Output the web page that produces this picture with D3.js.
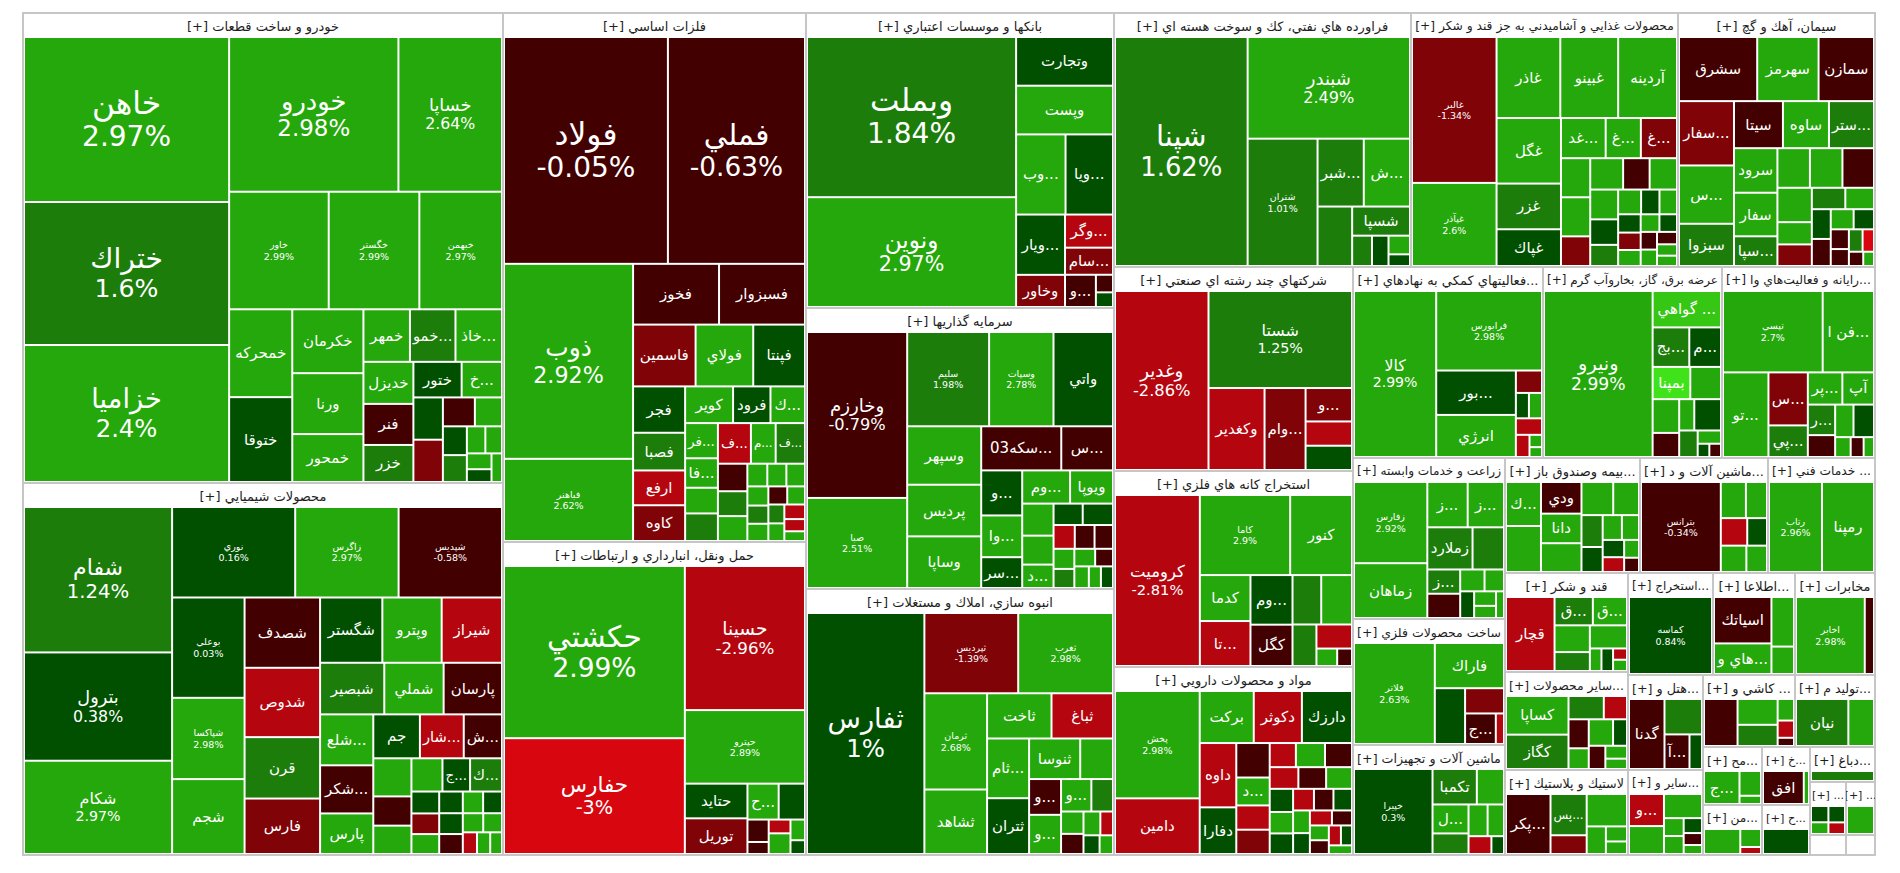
<!DOCTYPE html>
<html><head><meta charset="utf-8">
<script src="https://cdnjs.cloudflare.com/ajax/libs/d3/7.8.5/d3.min.js"></script>
<style>
html,body{margin:0;padding:0;background:#fff;}
svg{display:block;}
text{font-family:"DejaVu Sans",sans-serif;}
</style></head><body>
<svg id="chart" width="1900" height="873"></svg>
<script>
// ---------- DATA ----------
const sectorNames = [
"خودرو و ساخت قطعات","محصولات شيميايي","فلزات اساسي","حمل ونقل، انبارداري و ارتباطات",
"بانكها و موسسات اعتباري","سرمايه گذاريها","انبوه سازي، املاك و مستغلات",
"فراورده هاي نفتي، كك و سوخت هسته اي","محصولات غذايي و آشاميدني به جز قند و شكر","سيمان، آهك و گچ",
"شركتهاي چند رشته اي صنعتي","استخراج كانه هاي فلزي","مواد و محصولات دارويي",
"فعاليتهاي كمكي به نهادهاي...","عرضه برق، گاز، بخاروآب گرم","رايانه و فعاليت‌هاي وا...",
"زراعت و خدمات وابسته","ساخت محصولات فلزي","ماشين آلات و تجهيزات",
"بيمه وصندوق باز...","ماشين آلات و د...","خدمات فني ...",
"قند و شكر","ساير محصولات...","لاستيك و پلاستيك",
"استخراج...","اطلاعا...","مخابرات","هتل و...","ساير و...","كاشي و ...","توليد م...",
"مح...","من...","خ...","ح...","دباغ...","...","...","",""];

const sectorValues = [225600,178560,160287,94839,90860,86548,81928,75438,67818,50038,
48756,46844,44932,36290,34189,29223,24472,19152,16720,15525,14720,12305,12177,12054,10455,
8670,8364,8160,7125,6375,6624,5760,3422,2950,2784,2400,2275,1908,1537,720,580];

// stock rows: [symbol, weight, change %]
const autoStocks = [["خاهن",33825,2.97],["ختراك",29315,1.6],["خزاميا",28085,2.4],["خودرو",26180,2.98],["خساپا",16016,2.64],["خاور",11700,2.99],["خگستر",10647,2.99],["خبهمن",9711,2.97],["خمحركه",5544,2.9],["ختوقا",5355,0.45],["خكرمان",4544,2.8],["ورنا",4331,2.7],["خمحور",3408,2.6],["خمهر",2444,2.5],["خمو...",2392,1.5],["خاذ...",2444,2.4],["خديزل",2100,2.5],["فنر",2050,-0.6],["خزر",1850,1.4],["ختور",1715,0.4],["خ...",1435,2.2],["",1247,0.5],["",1247,-1.5],["",924,-0.5],["",784,2.5],["",690,0.5],["",644,1.5],["",500,2.5],["",450,2.5],["",390,2.5],["",315,0.5],["",300,2.5]];
const chemStocks = [["شفام",21025,1.24],["بترول",15660,0.38],["شكام",13485,2.97],["نوري",10875,0.16],["زاگرس",9135,2.97],["شپديس",9135,-0.58],["بوعلي",7100,0.03],["شپاكسا",5750,2.98],["شجم",5300,2.5],["شصدف",5183,-0.6],["شدوص",5110,-2.4],["قرن",4526,1.5],["فارس",4088,-1.3],["شگستر",3968,0.5],["وپترو",3782,2.6],["شيراز",3844,-2.5],["شبصير",3234,1.5],["شملي",2989,2.5],["پارسان",2940,-0.7],["شلع...",2646,2.4],["شكر...",2499,-0.6],["پارس",2107,2.5],["جم",2000,0.5],["شار...",1880,-2.3],["ش...",1640,-0.6],["",1419,2.5],["",1089,-0.6],["",1056,2.5],["",1008,2.5],["ج...",896,0.5],["ك...",1036,1.5],["",594,0.5],["",560,-1.5],["",540,2.5],["",500,0.5],["",480,0.5],["",460,-0.6],["",430,2.5],["",400,0.5],["",380,2.5],["",350,2.5],["",300,-2.5],["",280,2.5],["",250,2.5]];
const metalStocks = [["فولاد",36960,-0.05],["فملي",30912,-0.63],["ذوب",25019,2.92],["فباهنر",10541,2.62],["فخوز",5192,-0.6],["فسبزوار",5192,-0.6],["فاسمين",3840,-1.6],["فولاي",3540,2.5],["فپنتا",3180,0.5],["فجر",2400,0.5],["فصبا",1950,1.5],["ارفع",1800,-2.3],["كاوه",1850,-1.2],["كوير",1750,2.5],["فرود",1365,0.5],["ك...",1260,2.5],["فر...",1147,2.5],["فا...",961,2.5],["",837,2.5],["",899,1.5],["ف...",1332,-2.4],["م...",999,2.5],["ف...",1184,1.5],["",806,-0.6],["",728,1.5],["",728,2.5],["",450,2.5],["",430,2.5],["",420,2.5],["",400,2.5],["",380,1.5],["",360,2.5],["",340,-0.6],["",320,2.5],["",300,1.5],["",280,2.5],["",300,-2.4],["",250,-2.4],["",200,2.5]];
const transStocks = [["حكشتي",31122,2.99],["حفارس",20930,-3],["حسينا",17303,-2.96],["حپترو",8833,2.89],["حتايد",2170,0.5],["توريل",2232,-1.3],["ح...",1120,2.5],["",945,0.5],["",476,-0.6],["",255,-0.6],["",300,-2.5],["",450,2.5],["",300,2.5],["",200,0.5]];
const bankStocks = [["وبملت",33390,1.84],["ونوين",22890,2.97],["وتجارت",4704,0.5],["وپست",4704,2.5],["وب...",3950,2.5],["ويا...",3792,0.5],["ويار...",2940,0.5],["وخاور",1568,-1.2],["وگر...",1584,-2.4],["سام...",1296,-1.2],["و...",992,-0.6],["",300,-0.6],["",250,0.5]];
const investStocks = [["وخارزم",15908,-0.79],["صبا",8633,2.51],["سليم",7392,1.98],["وسپات",5808,2.78],["واتي",5368,0.5],["وسپهر",4140,2.5],["پرديس",3657,2.5],["وساپا",3657,2.5],["سكه03...",3380,-0.6],["س...",2184,-0.6],["و...",1768,0.5],["وا...",1638,2.5],["سر...",1209,0.5],["وم...",1521,2.5],["ويوپا",1364,2.5],["",961,2.5],["",868,2.5],["د...",702,2.5],["",598,0.5],["",621,0.5],["",483,-2.4],["",450,-0.6],["",420,-0.6],["",400,2.5],["",380,1.5],["",350,2.5],["",300,-0.6],["",300,2.5],["",250,2.5],["",250,0.5]];
const buildStocks = [["ثفارس",28197,1],["ثپرديس",7505,-1.39],["ثغرب",7584,2.98],["ثرمان",6014,2.68],["ثشاهد",4030,2.5],["ثاخت",2904,2.5],["ثباغ",2772,-2.4],["ثام...",2501,2.5],["ثتران",2337,0.5],["ثنوسا",2067,2.5],["",1326,2.5],["و...",1140,-0.7],["و...",1248,2.5],["و...",980,2.5],["",700,1.5],["",500,2.5],["",450,-0.6],["",400,2.5],["",300,-2.4],["",300,0.5],["",250,2.5]];
const oilStocks = [["شپنا",30284,1.62],["شبندر",16463,2.49],["شتران",8875,1.01],["شبر...",3128,1.5],["ش...",3128,2.5],["",2052,1.5],["شسپا",1680,1.5],["",600,1.5],["",500,0.5],["",400,2.5],["",250,0.5]];
const foodStocks = [["غالبر",11952,-1.34],["غپآذر",6806,2.6],["غاذر",5005,2.5],["غبينو",4543,2.5],["آردينه",4620,2.5],["غگل",4092,2.5],["غزر",2852,1.5],["غپاك",2294,0.5],["غد...",1739,2.5],["غ...",1369,2.5],["غ...",1406,-1.6],["",1107,2.5],["",1107,2.5],["",840,-1.6],["",1000,2.5],["",806,-0.6],["",832,2.5],["",806,2.5],["",690,0.5],["",572,1.5],["",550,2.5],["",440,0.5],["",420,2.5],["",400,0.5],["",380,-1.6],["",350,2.5],["",320,2.5],["",300,0.5],["",280,-0.6],["",260,2.5],["",240,-0.6],["",220,2.5],["",200,2.5]];
const cementStocks = [["سشرق",4898,-0.6],["سهرمز",3844,2.5],["سمازن",3472,-0.6],["سفار...",3456,-1.6],["س...",3132,2.5],["سبزوا",2268,1.5],["سيتا",2250,-0.6],["ساوه",2115,2.5],["ستر...",2070,1.5],["سرود",1890,2.5],["سفار",1848,2.5],["سپا...",1260,1.5],["",1258,2.5],["",1258,2.5],["",1221,-0.6],["",1156,2.5],["",748,2.5],["",726,-1.6],["",700,1.5],["",600,2.5],["",550,0.5],["",500,-0.6],["",450,2.5],["",400,0.5],["",350,-0.6],["",300,-0.6],["",300,1.5],["",250,-3.5],["",200,-0.6],["",150,2.5]];
const multiStocks = [["وغدير",16732,-2.86],["شستا",13920,1.25],["وكغدير",4592,-2.4],["وام...",3362,-1.2],["و...",1551,-1.2],["",1127,-2.2],["",1127,0.5]];
const miningStocks = [["كروميت",14028,-2.81],["كاما",6992,2.9],["كنور",4788,2.5],["كدما",2250,2.5],["تا...",2200,-2.4],["وم...",2016,0.5],["كگل",1680,-0.6],["",1372,1.5],["",1470,2.5],["",960,1.5],["",828,-2.4],["",350,2.5],["",250,-0.6]];
const pharmaStocks = [["پخش",9072,2.98],["دامين",4704,-2.4],["بركت",2805,2.5],["دكوثر",2499,-2.4],["دارزك",2601,0.5],["داوه",2346,-2.4],["دفارا",1702,0.5],["",1150,-0.6],["د...",930,2.5],["",810,-2.4],["",810,-1.2],["",630,-2.4],["",700,2.5],["",650,-0.6],["",620,-2.4],["",600,-0.6],["",560,2.5],["",540,0.5],["",500,2.5],["",480,0.5],["",450,-2.4],["",420,-0.6],["",400,0.5],["",380,2.5],["",350,0.5],["",330,-2.4],["",300,-0.6],["",280,2.5],["",260,-0.6],["",240,-2.4],["",220,0.5],["",200,2.5]];
const financeStocks = [["كالا",13284,2.99],["فرابورس",8190,2.98],["بور...",3444,0.5],["انرژي",3264,2.5],["",570,-1.6],["",323,0.5],["",323,2.5],["",420,-2.4],["",294,-2.4],["",150,2.5],["",120,2.5]];
const powerStocks = [["ونيرو",17496,2.99],["گواهي ...",2415,3.5],["بج...",1406,1.5],["م...",1216,0.5],["بمپنا",1178,4.9],["",961,2.5],["",870,2.5],["",621,-0.6],["",459,2.5],["",812,0.5],["",476,1.5],["",300,2.5],["",150,0.5],["",150,-0.6]];
const computerStocks = [["تپسي",7878,2.7],["فن ا...",4056,2.5],["تو...",3735,2.5],["س...",2028,-1.6],["پي...",1209,1.5],["پر...",1080,2.5],["آپ",990,2.5],["ر...",810,1.5],["",580,-0.6],["",580,2.5],["",648,0.5],["",300,2.5],["",250,-0.6],["",200,2.5]];
const farmStocks = [["زفارس",5600,2.92],["زماهان",3780,2.5],["ز...",1720,2.5],["ز...",1548,2.5],["زملارد",1794,1.5],["",1248,1.5],["ز...",750,1.5],["",750,-0.6],["",500,2.5],["",400,2.5],["",350,0.5],["",300,2.5],["",250,2.5],["",200,2.5]];
const metalProdStocks = [["فلاتر",7566,2.63],["فاراك",2898,2.5],["",1566,0.5],["",912,-1.6],["ج...",870,-0.6],["",232,-2.4]];
const machineStocks = [["خپيرا",6545,0.3],["تكمبا",1540,1.5],["",945,2.5],["ل...",1023,2.5],["",726,1.5],["",594,2.5],["",510,2.5],["",400,-2.4],["",220,0.5]];
const insureStocks = [["ك...",1452,2.5],["",1518,2.5],["ودي",1209,-0.6],["دانا",1131,2.5],["",1100,2.5],["",992,2.5],["",806,2.5],["",638,1.5],["",500,0.5],["",450,2.5],["",400,2.5],["",350,0.5],["",300,-2.4],["",250,2.5],["",200,-0.6]];
const electricStocks = [["بترانس",6930,-0.34],["",875,2.5],["",735,2.5],["",702,-2.4],["",525,0.5],["",650,2.5],["",525,2.5]];
const engStocks = [["رتاب",4770,2.96],["رمپنا",4680,2.5]];
const sugarStocks = [["قچار",3430,-2.4],["ق...",1036,1.5],["ق...",924,2.5],["",902,2.5],["",638,1.5],["",820,2.5],["",250,2.5],["",250,0.5],["",150,-2.4],["",150,2.5]];
const mineralStocks = [["كساپا",2160,2.5],["كگاز",1920,1.5],["",735,1.5],["",483,-2.4],["",525,-0.6],["",375,2.5],["",575,2.5],["",330,0.5],["",345,-0.6],["",250,2.5],["",200,2.5]];
const rubberStocks = [["پكر...",2520,-0.6],["پس...",1408,1.5],["",640,-1.2],["",1232,2.5],["",500,2.5],["",300,2.5],["",250,2.5]];
const extractStocks = [["كماسه",5840,0.84]];
const infoStocks = [["اسياتك",2464,-0.6],["هاي و...",1624,2.5],["",1034,2.5],["",572,2.5]];
const telecomStocks = [["اخابر",4891,2.98],["",657,-0.6]];
const hotelStocks = [["گدنا",2275,-0.6],["",1216,1.5],["آ...",792,-0.7],["",396,0.5]];
const otherFinStocks = [["و...",1023,-2.4],["",891,2.5],["",837,2.5],["",322,2.5],["",323,2.5],["",250,0.5],["",200,-0.6],["",150,2.5]];
const tileStocks = [["",1408,-0.6],["",924,2.5],["",759,1.5],["",315,2.5],["",252,-2.4],["",120,-0.6]];
const hwStocks = [["نيان",2244,1.5],["",1100,2.5]];
const s33 = [["ج...",924,2.5],["",420,2.5],["",140,2.5]];
const s34 = [["",875,2.5],["",360,2.5],["",140,-2.4]];
const s35 = [["افق",1092,-0.6],["",140,2.5]];
const s36 = [["",1100,0.5]];
const s37 = [["",488,1.8]];
const s38 = [["",250,0.5],["",180,2.5],["",240,0.5],["",170,-2.4]];
const s39 = [["",675,2.5]];
const s40 = [["",100,2.5]];
const s41 = [["",100,2.5]];

const stockLists = [autoStocks,chemStocks,metalStocks,transStocks,bankStocks,investStocks,buildStocks,
oilStocks,foodStocks,cementStocks,multiStocks,miningStocks,pharmaStocks,financeStocks,powerStocks,computerStocks,
farmStocks,metalProdStocks,machineStocks,insureStocks,electricStocks,engStocks,sugarStocks,mineralStocks,rubberStocks,
extractStocks,infoStocks,telecomStocks,hotelStocks,otherFinStocks,tileStocks,hwStocks,s33,s34,s35,s36,s37,s38,s39,s40,s41];

// symbols drawn with their change under the name
const changeLabelled = ["خاهن","ختراك","خزاميا","خودرو","خساپا","خاور","خگستر","خبهمن","شفام","بترول","شكام","نوري","زاگرس","شپديس","بوعلي","شپاكسا","فولاد","فملي","ذوب","فباهنر","حكشتي","حفارس","حسينا","حپترو","وبملت","ونوين","وخارزم","صبا","سليم","وسپات","ثفارس","ثپرديس","ثغرب","ثرمان","شپنا","شبندر","شتران","غالبر","غپآذر","وغدير","شستا","كروميت","كاما","پخش","كالا","فرابورس","ونيرو","تپسي","زفارس","فلاتر","خپيرا","بترانس","رتاب","كماسه","اخابر"];

// ---------- LAYOUT ----------
const X0 = 23, Y0 = 13, TW = 1852, TH = 842;
const tree = {name: "root", children: sectorNames.map((s, i) => {
  const rows = stockLists[i];
  const tot = d3.sum(rows, r => r[1]);
  return {name: s, children: rows.map(r => ({name: r[0], change: r[2], value: sectorValues[i] * r[1] / tot}))};
})};
const root = d3.hierarchy(tree).sum(d => d.children ? 0 : d.value);
d3.treemap()
  .tile(d3.treemapSquarify.ratio(1))
  .size([TW, TH])
  .paddingInner(d => d.depth === 0 ? 0 : 2)
  .paddingTop(d => d.depth === 1 ? 25 : 0)
  .paddingLeft(d => d.depth === 1 ? 2 : 0)
  .paddingRight(d => d.depth === 1 ? 2 : 0)
  .paddingBottom(d => d.depth === 1 ? 2 : 0)(root);

const color = d3.scaleThreshold()
  .domain([-2.995, -2, -1, 0, 1.005, 2, 3.005, 4.5])
  .range(["#d7060f", "#b5060f", "#800308", "#420000", "#005000", "#1c7d0b", "#25a80b", "#36c614", "#40e31a"]);

const svg = d3.select("#chart");
const defs = svg.append("defs");
const g = svg.append("g").attr("transform", `translate(${X0},${Y0})`);

const sectors = root.children;
sectors.forEach((d, i) => {
  defs.append("clipPath").attr("id", "sc" + i).append("rect")
    .attr("x", d.x0).attr("y", d.y0).attr("width", d.x1 - d.x0).attr("height", Math.min(25, d.y1 - d.y0));
});
g.selectAll("rect.sector").data(sectors).join("rect").attr("class", "sector")
  .attr("x", d => d.x0).attr("y", d => d.y0)
  .attr("width", d => d.x1 - d.x0).attr("height", d => d.y1 - d.y0)
  .attr("fill", "#fff").attr("stroke", "#c6c6c6").attr("stroke-width", 2);

g.selectAll("text.head").data(sectors.filter(d => d.y1 - d.y0 > 30 && d.data.name))
  .join("text").attr("class", "head")
  .attr("clip-path", d => `url(#sc${sectors.indexOf(d)})`)
  .attr("x", d => (d.x0 + d.x1) / 2).attr("y", d => d.y0 + 13)
  .attr("text-anchor", "middle").attr("dominant-baseline", "central")
  .attr("font-size", 13).attr("fill", "#1e1e1e")
  .text(d => "[+] " + d.data.name)
  .each(function(d) {
    const avail = d.x1 - d.x0 - 8;
    const len = this.getComputedTextLength();
    if (len > avail) d3.select(this).attr("font-size", Math.max(11, 13 * avail / len));
  });

const leaves = root.leaves().filter(d => d.x1 - d.x0 > 0.5 && d.y1 - d.y0 > 0.5);
g.selectAll("rect.cell").data(leaves).join("rect").attr("class", "cell")
  .attr("x", d => d.x0).attr("y", d => d.y0)
  .attr("width", d => d.x1 - d.x0).attr("height", d => d.y1 - d.y0)
  .attr("fill", d => color(d.data.change));

const named = leaves.filter(d => d.data.name);
named.forEach((d, i) => {
  defs.append("clipPath").attr("id", "lc" + i).append("rect")
    .attr("x", d.x0).attr("y", d.y0).attr("width", d.x1 - d.x0).attr("height", d.y1 - d.y0);
});
const labels = g.selectAll("g.lab").data(named).join("g").attr("class", "lab")
  .attr("clip-path", (d, i) => `url(#lc${i})`);
labels.each(function(d) {
  const sel = d3.select(this);
  const w = d.x1 - d.x0, h = d.y1 - d.y0, cx = (d.x0 + d.x1) / 2, cy = (d.y0 + d.y1) / 2;
  if (changeLabelled.includes(d.data.name)) {
    const a = w * h;
    const fs = a >= 12500 ? Math.min(28, 14 + (a - 13000) / 1400) : 9.5;
    const nfs = fs >= 12 ? fs * 1.12 : fs;
    sel.append("text").attr("x", cx).attr("y", cy - fs * 0.6)
      .attr("text-anchor", "middle").attr("dominant-baseline", "central")
      .attr("font-size", nfs).attr("fill", "#fff").text(d.data.name);
    sel.append("text").attr("x", cx).attr("y", cy + fs * 0.6)
      .attr("text-anchor", "middle").attr("dominant-baseline", "central")
      .attr("font-size", fs).attr("fill", "#fff").text(d.data.change + "%");
  } else {
    const t = sel.append("text").attr("x", cx).attr("y", cy)
      .attr("text-anchor", "middle").attr("dominant-baseline", "central")
      .attr("font-size", 15).attr("fill", "#fff").text(d.data.name);
    const len = t.node().getComputedTextLength();
    if (len > w - 4) t.attr("font-size", Math.max(11, 15 * (w - 4) / len));
  }
});
</script>
</body></html>
